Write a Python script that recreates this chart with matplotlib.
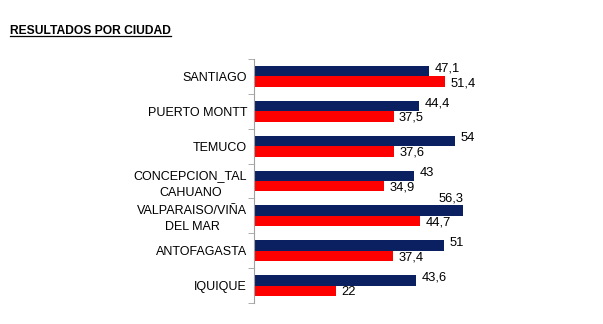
import numpy as np
import matplotlib.pyplot as plt

ciudades = ["SANTIAGO", "PUERTO MONTT", "TEMUCO", "CONCEPCION_TAL\nCAHUANO",
            "VALPARAISO/VIÑA\nDEL MAR", "ANTOFAGASTA", "IQUIQUE"]
serie_azul = [47.1, 44.4, 54, 43, 56.3, 51, 43.6]
serie_roja = [51.4, 37.5, 37.6, 34.9, 44.7, 37.4, 22]

plt.rcParams['font.family'] = ['Liberation Sans', 'DejaVu Sans']

fig = plt.figure(figsize=(6.03, 3.24), dpi=100)
ax = fig.add_axes([254 / 603, 21 / 324, 297.6 / 603, 244 / 324])

y = np.arange(len(ciudades))
h = 0.3
b1 = ax.barh(y - h / 2, serie_azul, height=h, color="#0b2060")
b2 = ax.barh(y + h / 2, serie_roja, height=h, color="#ff0000")

ax.set_xlim(0, 80)
ax.set_ylim(len(ciudades) - 0.5, -0.5)

# etiquetas de valor con coma decimal
def fmt(v):
    return f"{v:g}".replace(".", ",")

vmax = max(serie_azul)
for yi, v in zip(y, serie_azul):
    if v == vmax:
        ax.annotate(fmt(v), (v, yi - h), xytext=(0, 1), textcoords="offset points",
                    ha="right", va="bottom", fontsize=9.3)
    else:
        ax.annotate(fmt(v), (v, yi - h / 2), xytext=(4, 2), textcoords="offset points",
                    ha="left", va="center", fontsize=9.3)
for yi, v in zip(y, serie_roja):
    ax.annotate(fmt(v), (v, yi + h / 2), xytext=(4, -1), textcoords="offset points",
                ha="left", va="center", fontsize=9.3)

ax.set_yticks(y)
ax.set_yticklabels(ciudades, fontsize=9, multialignment="center", linespacing=1.45)
ax.tick_params(axis="y", which="major", length=0, pad=5)
ax.set_yticks(np.arange(len(ciudades) + 1) - 0.5, minor=True)
ax.tick_params(axis="y", which="minor", length=4, color="#a0a0a0")
ax.set_xticks([])

for s in ["top", "right", "bottom"]:
    ax.spines[s].set_visible(False)
ax.spines["left"].set_color("#a0a0a0")

titulo = fig.text(10 / 603, 1 - 34 / 324, "RESULTADOS POR CIUDAD", fontsize=8.7,
                  fontweight="bold", va="baseline")
fig.canvas.draw()
bb = titulo.get_window_extent().transformed(fig.transFigure.inverted())
fig.add_artist(plt.Line2D([bb.x0, bb.x1], [bb.y0 + 0.002, bb.y0 + 0.002],
                          transform=fig.transFigure, color="black", lw=0.9))

fig.savefig("out.png", dpi=100)
